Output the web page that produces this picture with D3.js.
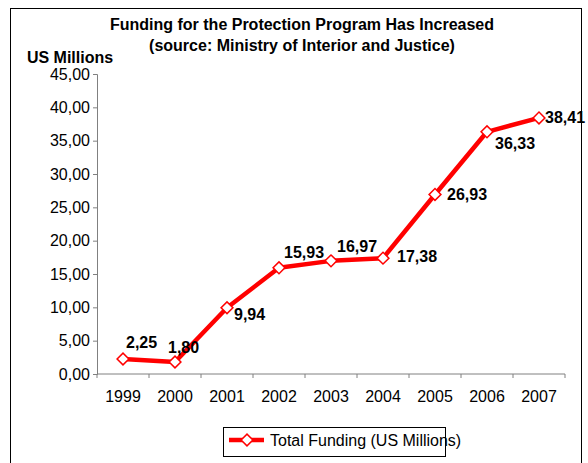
<!DOCTYPE html>
<html>
<head>
<meta charset="utf-8">
<script src="https://cdn.jsdelivr.net/npm/d3@7/dist/d3.min.js"></script>
<style>
  body { margin: 0; background: #fff; }
  svg { display: block; font-family: Arial, "Liberation Sans", sans-serif; }
</style>
</head>
<body>
<script>
const years = ["1999", "2000", "2001", "2002", "2003", "2004", "2005", "2006", "2007"];
const funding = [2.25, 1.80, 9.94, 15.93, 16.97, 17.38, 26.93, 36.33, 38.41];
const yTicks = [0, 5, 10, 15, 20, 25, 30, 35, 40, 45];
const seriesName = "Total Funding (US Millions)";

// where each value label sits relative to its point (Excel placed them by hand)
const labelOffsets = [[3, -11], [-7, -9], [7, 12], [5, -10], [6, -9], [14, 4], [12, 6], [8, 17], [6, 5]];

const width = 588, height = 463;
const plot = {left: 97, right: 565, top: 74, bottom: 374};

const svg = d3.select("body").append("svg")
    .attr("width", width)
    .attr("height", height);

// chart border
svg.append("rect")
  .attr("x", 10.5).attr("y", 8.5)
  .attr("width", 571).attr("height", 470)
  .attr("fill", "none")
  .attr("stroke", "#000");

const comma = d3.formatLocale({decimal: ",", thousands: ".", grouping: [3], currency: ["", ""]});
const fmt = comma.format(".2f");

const x = d3.scaleBand().domain(years).range([plot.left, plot.right]).padding(0);
const y = d3.scaleLinear().domain([0, 45]).range([plot.bottom, plot.top]);
const cx = d => x(d) + x.bandwidth() / 2;

svg.append("text")
  .attr("x", 302).attr("y", 30)
  .attr("text-anchor", "middle")
  .style("font-size", "16px").style("font-weight", "bold")
  .text("Funding for the Protection Program Has Increased");

svg.append("text")
  .attr("x", 302).attr("y", 51)
  .attr("text-anchor", "middle")
  .style("font-size", "16px").style("font-weight", "bold")
  .text("(source: Ministry of Interior and Justice)");

svg.append("text")
  .attr("x", 70).attr("y", 63)
  .attr("text-anchor", "middle")
  .style("font-size", "16px").style("font-weight", "bold")
  .text("US Millions");

// y axis
const yAxis = svg.append("g")
  .attr("transform", `translate(${plot.left},0)`)
  .call(d3.axisLeft(y).tickValues(yTicks).tickFormat(fmt).tickSize(4).tickPadding(3));
yAxis.select(".domain").attr("stroke", "#808080");
yAxis.selectAll(".tick line").attr("stroke", "#808080");
yAxis.selectAll("text").style("font-size", "16px").attr("fill", "#000");

// x axis, ticks between categories
const xAxis = svg.append("g")
  .attr("transform", `translate(0,${plot.bottom})`);
xAxis.append("line")
  .attr("x1", plot.left).attr("x2", plot.right)
  .attr("stroke", "#808080");
xAxis.selectAll("line.tk")
  .data(years.concat(["end"]))
  .enter().append("line")
  .attr("class", "tk")
  .attr("x1", (d, i) => i < years.length ? x(d) : plot.right)
  .attr("x2", (d, i) => i < years.length ? x(d) : plot.right)
  .attr("y1", 0).attr("y2", 4)
  .attr("stroke", "#808080");
xAxis.selectAll("text")
  .data(years)
  .enter().append("text")
  .attr("x", d => cx(d))
  .attr("y", 28)
  .attr("text-anchor", "middle")
  .style("font-size", "16px")
  .text(d => d);

// series
const line = d3.line()
  .x((d, i) => cx(years[i]))
  .y(d => y(d));

svg.append("path")
  .datum(funding)
  .attr("d", line)
  .attr("fill", "none")
  .attr("stroke", "#ff0000")
  .attr("stroke-width", 4.5)
  .attr("stroke-linejoin", "round");

const diamond = d3.symbol().type(d3.symbolSquare).size(70);

svg.selectAll("path.marker")
  .data(funding)
  .enter().append("path")
  .attr("class", "marker")
  .attr("d", diamond)
  .attr("transform", (d, i) => `translate(${cx(years[i])},${y(d)}) rotate(45)`)
  .attr("fill", "#fff")
  .attr("stroke", "#ff0000")
  .attr("stroke-width", 1.5);

svg.selectAll("text.val")
  .data(funding)
  .enter().append("text")
  .attr("class", "val")
  .attr("x", (d, i) => cx(years[i]) + labelOffsets[i][0])
  .attr("y", (d, i) => y(d) + labelOffsets[i][1])
  .style("font-size", "16px").style("font-weight", "bold")
  .text(d => fmt(d));

// legend
const legend = svg.append("g");
legend.append("rect")
  .attr("x", 223.5).attr("y", 427.5)
  .attr("width", 222).attr("height", 29)
  .attr("fill", "none")
  .attr("stroke", "#000");
legend.append("line")
  .attr("x1", 229).attr("x2", 264)
  .attr("y1", 440).attr("y2", 440)
  .attr("stroke", "#ff0000").attr("stroke-width", 4.5);
legend.append("path")
  .attr("d", diamond)
  .attr("transform", "translate(247,440) rotate(45)")
  .attr("fill", "#fff").attr("stroke", "#ff0000").attr("stroke-width", 1.5);
legend.append("text")
  .attr("x", 270).attr("y", 446)
  .style("font-size", "16px")
  .text(seriesName);
</script>
</body>
</html>
